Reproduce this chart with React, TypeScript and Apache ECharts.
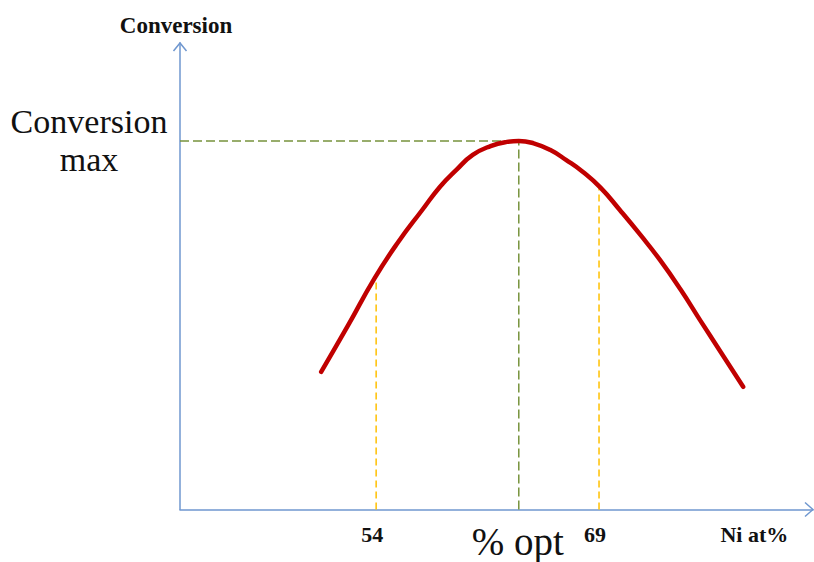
import React, { useEffect, useRef } from "react";
import * as echarts from "echarts";

// Ni at% (x) and Conversion (y, arbitrary units)
const curveX = [50.3, 52.1, 53.9, 55.5, 57.1, 58.3, 59.4, 60.5, 61.7, 62.8, 63.6, 64.6, 65.7, 66.8, 67.9, 69.1, 70.4, 71.8, 73.1, 74.5, 75.8, 77.1, 78.7];
const curveY = [29.5, 39.4, 49.6, 57.4, 64.2, 69.2, 72.8, 76.0, 77.9, 78.8, 79.0, 78.5, 77.1, 74.9, 72.4, 69.0, 64.2, 58.8, 53.5, 47.1, 40.6, 34.2, 26.3];

const xMin = 40.8;
const xMax = 83.4;
const yMin = 0;
const yMax = 100;

const optX = 63.6;
const maxY = 79.0;
const lowX = 54;
const lowY = 49.6;
const highX = 69;
const highY = 69.0;

const xTickValues = [54, 69];
const yLabelText = "Conversion\nmax";
const optLabel = "% opt";
const xName = "Ni at%";
const yName = "Conversion";

const AXIS = "#6F97CF";
const RED = "#C00000";
const GREEN = "#77933C";
const ORANGE = "#FFC000";
const FONT = "'Liberation Serif', 'Times New Roman', serif";

export default function App() {
  const ref = useRef<HTMLDivElement>(null);
  useEffect(() => {
    if (!ref.current) return;
    const chart = echarts.init(ref.current, undefined, { renderer: "svg" });
    const dashed = (data: number[][], color: string, dash: number[]) => ({
      type: "line",
      data,
      symbol: "none",
      silent: true,
      lineStyle: { color, width: 1.5, type: dash },
      z: 2,
    });
    chart.setOption({
      animation: false,
      backgroundColor: "#fff",
      grid: { left: 180, right: 1, top: 43, bottom: 52.5 },
      xAxis: [
        {
          type: "value",
          min: xMin,
          max: xMax,
          name: xName,
          nameLocation: "end",
          nameGap: -24.7,
          nameTextStyle: {
            fontFamily: FONT,
            fontSize: 22,
            fontWeight: "bold",
            color: "#111",
            align: "right",
            verticalAlign: "top",
            padding: [13.5, 0, 0, 0],
          },
          axisLine: { show: true, lineStyle: { color: AXIS, width: 1.5 } },
          axisTick: { show: false },
          splitLine: { show: false },
          axisLabel: {
            customValues: xTickValues,
            formatter: (v: number) => String(v),
            fontFamily: FONT,
            fontSize: 22,
            fontWeight: "bold",
            color: "#111",
            margin: 13.5,
            padding: [0, 8, 0, 0],
          },
        },
        {
          type: "value",
          min: xMin,
          max: xMax,
          position: "bottom",
          axisLine: { show: false },
          axisTick: { show: false },
          splitLine: { show: false },
          axisLabel: {
            customValues: [optX],
            formatter: () => optLabel,
            fontFamily: FONT,
            fontSize: 39,
            lineHeight: 30,
            color: "#111",
            margin: 17,
            padding: [0, 2, 0, 0],
          },
        },
      ],
      yAxis: {
        type: "value",
        min: yMin,
        max: yMax,
        name: yName,
        nameLocation: "end",
        nameGap: 6.5,
        nameTextStyle: {
          fontFamily: FONT,
          fontSize: 23,
          fontWeight: "bold",
          color: "#111",
          padding: [0, 8, 0, 0],
        },
        axisLine: { show: true, lineStyle: { color: AXIS, width: 1.5 } },
        axisTick: { show: false },
        splitLine: { show: false },
        axisLabel: {
          customValues: [maxY],
          formatter: () => yLabelText,
          fontFamily: FONT,
          fontSize: 34,
          lineHeight: 38,
          color: "#111",
          align: "center",
          margin: 91,
        },
      },
      series: [
        dashed([[xMin, maxY], [optX, maxY]], GREEN, [9, 4]),
        dashed([[optX, 0], [optX, maxY]], GREEN, [9, 4]),
        dashed([[lowX, 0], [lowX, lowY]], ORANGE, [7, 4]),
        dashed([[highX, 0], [highX, highY]], ORANGE, [7, 4]),
        {
          type: "line",
          data: curveX.map((x, i) => [x, curveY[i]]),
          symbol: "none",
          smooth: 0.5,
          lineStyle: { color: RED, width: 4.5, cap: "round", join: "round" },
          z: 5,
        },
      ],
    });
    const top = chart.convertToPixel({ gridIndex: 0 }, [xMin, yMax]) as number[];
    const end = chart.convertToPixel({ gridIndex: 0 }, [xMax, yMin]) as number[];
    chart.setOption({
      graphic: [
        {
          type: "polyline",
          shape: { points: [[top[0] - 6.5, top[1] + 8], [top[0], top[1]], [top[0] + 6.5, top[1] + 8]] },
          style: { stroke: AXIS, lineWidth: 1.5, fill: "none" },
        },
        {
          type: "polyline",
          shape: { points: [[end[0] - 8, end[1] - 7], [end[0], end[1]], [end[0] - 8, end[1] + 7]] },
          style: { stroke: AXIS, lineWidth: 1.5, fill: "none" },
        },
      ],
    });
    return () => chart.dispose();
  }, []);
  return (
    <div
      ref={ref}
      style={{ position: "fixed", left: 0, top: 0, width: 814, height: 562, background: "#fff" }}
    />
  );
}
